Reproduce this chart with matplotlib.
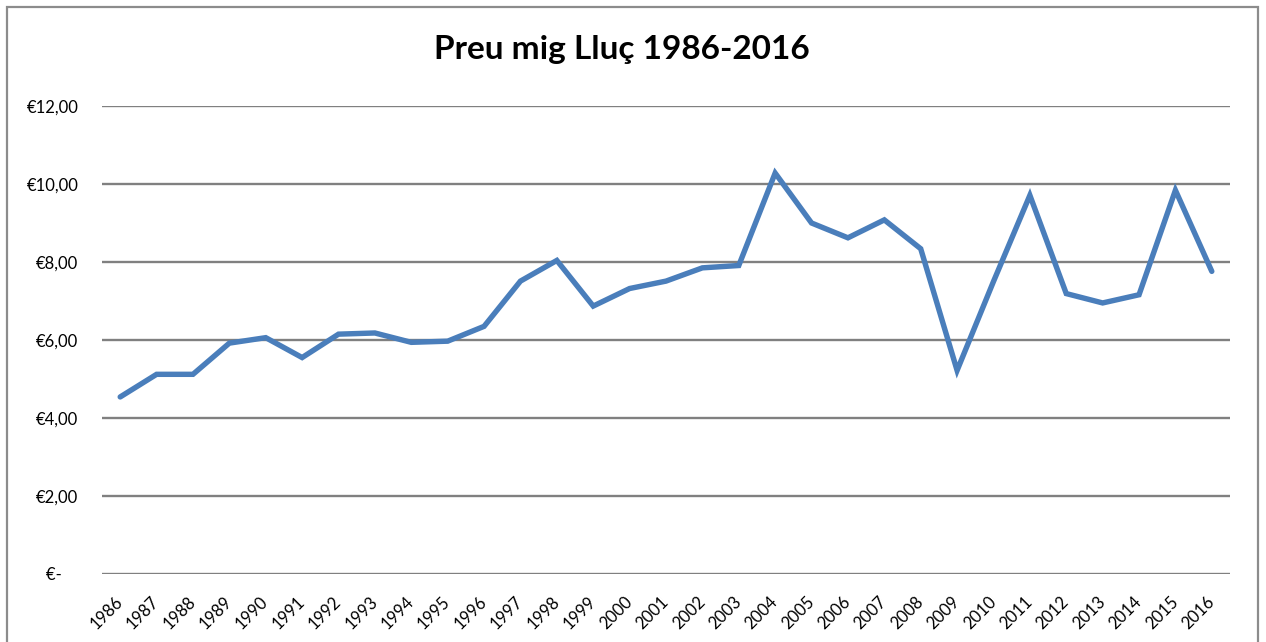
import numpy as np
import matplotlib
matplotlib.use("Agg")
import matplotlib.pyplot as plt
from matplotlib.patches import Rectangle

# average hake price per year (EUR)
years = list(range(1986, 2017))
prices = [4.54, 5.12, 5.12, 5.92, 6.06, 5.55, 6.15, 6.18, 5.94, 5.97,
          6.35, 7.51, 8.04, 6.87, 7.32, 7.51, 7.85, 7.91, 10.28, 9.00,
          8.62, 9.08, 8.34, 5.22, 7.50, 9.71, 7.19, 6.95, 7.16, 9.84, 7.76]
y_ticks = [0, 2, 4, 6, 8, 10, 12]
y_labels = ["€-    ", "€2,00", "€4,00", "€6,00", "€8,00", "€10,00", "€12,00"]

plt.rcParams['font.family'] = ['Lato', 'DejaVu Sans']

fig = plt.figure(figsize=(12.66, 6.42), dpi=100)
W, H = 1266, 642

# outer chart frame
fig.patches.append(Rectangle((7 / W, -0.05), (1258 - 7) / W, 1.05 - 7 / H,
                             transform=fig.transFigure, fill=False,
                             edgecolor="#8c8c8c", linewidth=1.6))

ax = fig.add_axes([102 / W, (H - 574) / H, (1230 - 102) / W, (574 - 106) / H])

x = np.arange(len(years))
ax.plot(x, prices, color="#4a7ebb", linewidth=3.9, solid_joinstyle="miter",
        solid_capstyle="round", zorder=3)

ax.set_xlim(-0.5, len(years) - 0.5)
ax.set_ylim(0, 12)
ax.set_yticks(y_ticks)
ax.set_yticklabels(y_labels, fontsize=12)
ax.set_xticks(x)
ax.set_xticklabels([str(y) for y in years], fontsize=12, rotation=45,
                   ha="right", va="center", rotation_mode="anchor")
ax.tick_params(axis="both", length=0)
ax.tick_params(axis="y", pad=17)
ax.tick_params(axis="x", pad=18)
for s in ax.spines.values():
    s.set_visible(False)
ax.grid(axis="y", color="#808080", linewidth=1.7)
ax.set_axisbelow(True)

fig.text(622 / W, 1 - 50 / H, "Preu mig Lluç 1986-2016", ha="center", va="center",
         fontsize=24, fontweight="bold")

fig.savefig("out.png", dpi=100)
